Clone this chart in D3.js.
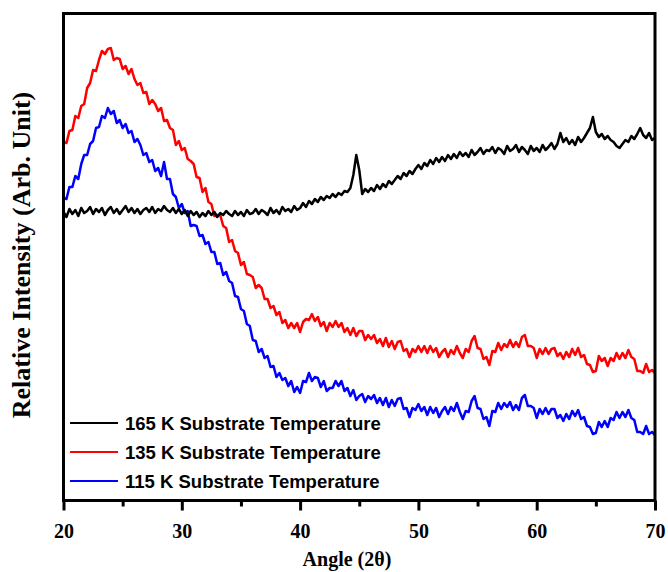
<!DOCTYPE html>
<html>
<head>
<meta charset="utf-8">
<script src="https://cdnjs.cloudflare.com/ajax/libs/d3/7.8.5/d3.min.js"></script>
<style>
  body { margin: 0; background: #fff; }
  .tickLabel { font-family: "Liberation Serif", "Times New Roman", serif; font-weight: bold; font-size: 20px; }
  .axisTitle { font-family: "Liberation Serif", "Times New Roman", serif; font-weight: bold; }
  .legendText { font-family: "Liberation Sans", Arial, sans-serif; font-weight: bold; font-size: 18.5px; }
</style>
</head>
<body>
<div id="chart"></div>
<script>
// scan grid: 20 to 70 degrees, 0.25 degree step
var angles = d3.range(0, 201).map(function(i){ return 20 + i * 0.25; });

// intensities (arb. unit), one value per angle
var series165 = [
  288,283,291,286, 290,284,292,287, 289,293,286,291, 288,292,285,290, 293,287,291,286,
  290,294,288,292, 287,291,286,290, 292,288,293,287, 291,289,294,290, 288,292,287,291,
  286,290,284,289, 285,288,283,287, 284,289,285,288, 283,287,285,289, 286,284,289,285,
  288,284,290,286, 287,291,286,290, 288,285,292,287, 290,286,293,289, 291,288,294,290,
  292,297,293,299, 296,301,298,303, 300,304,302,306, 303,307,305,309, 308,312,325,345,
  330,306,311,308, 312,309,315,311, 316,313,319,316, 320,324,321,327, 324,329,326,331,
  335,331,337,334, 340,336,342,338, 343,339,345,341, 346,342,348,344, 347,343,350,345,
  348,352,346,350, 349,353,347,352, 350,346,354,349, 351,355,348,353, 350,346,354,349,
  352,348,355,350, 353,357,351,356, 367,358,362,356, 360,355,363,358, 362,367,372,383,
  368,363,366,361, 364,360,358,354, 352,356,360,358, 364,361,366,372, 365,362,367,360,
  362
];

var series135 = [
  358,357,369,370, 384,382,394,396, 412,417,430,429, 440,449,446,451, 452,440,442,441,
  431,434,426,431, 421,415,417,407, 408,396,400,396, 389,392,379,380, 372,370,355,359,
  350,352,341,339, 336,323,322,308, 312,298,296,284, 285,285,274,272, 258,260,249,247,
  235,238,226,225, 223,212,215,212, 201,201,192,194, 185,188,177,180, 172,177,172,177,
  168,178,181,180, 186,179,183,174, 178,169,177,173, 179,173,177,168, 172,165,172,164,
  169,169,160,165, 161,165,157,161, 154,162,153,159, 151,158,159,149, 151,143,151,148,
  154,148,154,147, 154,148,152,143, 148,151,143,150, 146,154,147,142, 151,148,159,164,
  152,151,141,143, 135,149,148,157, 150,156,153,160, 153,158,153,163, 165,154,154,152,
  142,151,146,152, 146,151,152,144, 147,141,148,143, 151,145,152,143, 145,136,135,128,
  129,144,139,142, 134,142,139,147, 141,147,142,150, 143,141,129,129, 127,136,128,130,
  127
];

var series115 = [
  302,301,313,313, 324,321,336,345, 345,356,359,372, 373,384,382,392, 386,389,377,380,
  372,376,367,369, 358,361,355,345, 347,338,340,329, 332,324,338,321, 321,306,303,292,
  296,287,289,274, 275,274,264,265, 256,258,248,248, 236,237,225,228, 219,217,204,203,
  191,189,176,174, 160,159,148,151, 142,144,133,134, 123,127,120,122, 114,119,108,113,
  107,119,118,127, 119,123,122,113, 119,109,112,112, 119,114,119,109, 112,104,110,100,
  104,106,98,104, 101,105,97,102, 95,102,93,100, 94,101,102,91, 92,83,92,90,
  96,89,93,85, 93,87,92,83, 89,93,86,93, 89,97,88,81, 89,88,99,104,
  92,91,81,83, 74,89,88,97, 91,97,93,98, 90,95,90,102, 105,94,94,92,
  82,91,86,92, 86,91,91,82, 85,79,86,81, 89,84,90,81, 83,74,73,66,
  67,78,73,79, 73,82,80,88, 82,88,83,90, 82,80,68,68, 66,74,66,68,
  65
];

var seriesNames = ["165 K Substrate Temperature", "135 K Substrate Temperature", "115 K Substrate Temperature"];
var seriesColors = ["#000000", "#ff0000", "#0000ff"];
var xTicks = [20, 30, 40, 50, 60, 70];
var xMinorTicks = [25, 35, 45, 55, 65];

var width = 668, height = 572;
var plotLeft = 63.5, plotRight = 655, plotTop = 13.5, plotBottom = 500.5;

var svg = d3.select("#chart").append("svg")
    .attr("width", width)
    .attr("height", height);

svg.append("rect").attr("width", width).attr("height", height).attr("fill", "#fff");

var x = d3.scaleLinear().domain([20, 70]).range([plotLeft, plotRight]);
var y = d3.scaleLinear().domain([0, 488]).range([500, 12]);

var line = d3.line()
    .x(function(d, i){ return x(angles[i]); })
    .y(function(d){ return y(d); });

var allSeries = [series165, series135, series115];

// draw in reverse so black stays on top like the original
svg.append("g").selectAll("path")
    .data(allSeries.map(function(s, i){ return {values: s, color: seriesColors[i]}; }).reverse())
  .enter().append("path")
    .attr("d", function(d){ return line(d.values); })
    .attr("fill", "none")
    .attr("stroke", function(d){ return d.color; })
    .attr("stroke-width", 2.5)
    .attr("stroke-linejoin", "round");

// frame
svg.append("rect")
    .attr("x", plotLeft).attr("y", plotTop)
    .attr("width", plotRight - plotLeft).attr("height", plotBottom - plotTop)
    .attr("fill", "none")
    .attr("stroke", "#000")
    .attr("stroke-width", 3);

// bottom axis, ticks pointing out
var xAxis = d3.axisBottom(x).tickValues(xTicks).tickSize(10).tickFormat(d3.format("d"));
var gx = svg.append("g").attr("transform", "translate(0," + plotBottom + ")").call(xAxis);
gx.select(".domain").remove();
gx.selectAll(".tick line").attr("stroke", "#000").attr("stroke-width", 3);
gx.selectAll(".tick text")
    .attr("class", "tickLabel")
    .attr("fill", "#000")
    .attr("y", 23)
    .attr("dy", "0.71em");

var xMinor = d3.axisBottom(x).tickValues(xMinorTicks).tickSize(6).tickFormat("");
var gxm = svg.append("g").attr("transform", "translate(0," + plotBottom + ")").call(xMinor);
gxm.select(".domain").remove();
gxm.selectAll(".tick line").attr("stroke", "#000").attr("stroke-width", 3);

// axis titles
svg.append("text")
    .attr("class", "axisTitle")
    .attr("x", 347).attr("y", 566)
    .attr("text-anchor", "middle")
    .style("font-size", "20px")
    .text("Angle (2\u03b8)");

svg.append("text")
    .attr("class", "axisTitle")
    .attr("transform", "translate(30,255) rotate(-90)")
    .attr("text-anchor", "middle")
    .style("font-size", "26px")
    .text("Relative Intensity (Arb. Unit)");

// legend
var legend = svg.append("g").selectAll("g")
    .data(seriesNames)
  .enter().append("g")
    .attr("transform", function(d, i){ return "translate(0," + (423 + i * 29) + ")"; });

legend.append("line")
    .attr("x1", 70).attr("x2", 118)
    .attr("stroke", function(d, i){ return seriesColors[i]; })
    .attr("stroke-width", 2);

legend.append("text")
    .attr("class", "legendText")
    .attr("x", 125).attr("y", 6.5)
    .text(function(d){ return d; });
</script>
</body>
</html>
